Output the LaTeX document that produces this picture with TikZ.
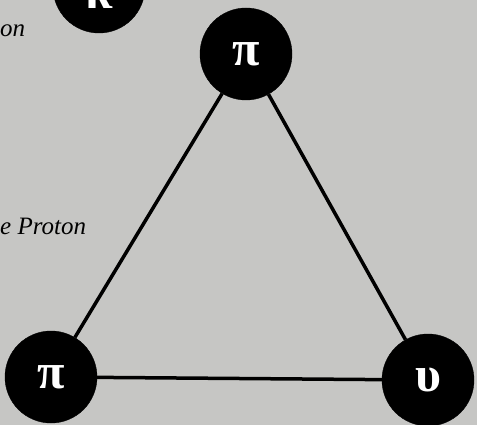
\documentclass[tikz,border=0pt]{standalone}
\usepackage{fontspec}
\setmainfont{Liberation Serif}
\definecolor{paper}{RGB}{198,198,196}
\begin{document}
\begin{tikzpicture}[x=1pt, y=-1pt]
        \tikzset{
            particle/.style={circle, fill=black, draw=black, minimum size=92pt, inner sep=0pt, text=white, font=\fontsize{50}{50}\selectfont\bfseries},
            link/.style={line width=3.5pt},
            caption/.style={anchor=west, font=\fontsize{25}{25}\selectfont\itshape, inner sep=0pt}
        }

        \fill[paper] (0, 0) rectangle (477, 425);
        \useasboundingbox (0, 0) rectangle (477, 425);
        \clip (0, 0) rectangle (477, 425);

        \node[caption] (cap1) at (0, 31) {on};
        \node[caption] (cap2) at (0, 226) {e Proton};

        \node[particle] (kappa) at (99, -13) {\smash{\raisebox{-22pt}{κ}}};
        \node[particle] (pitop) at (246, 54) {π};
        \node[particle] (pileft) at (51, 377) {π};
        \node[particle] (upsilon) at (428, 380) {υ};

        \draw[link] (pitop) -- (pileft);
        \draw[link] (pitop) -- (upsilon);
        \draw[link] (pileft) -- (upsilon);
    \end{tikzpicture}
\end{document}
